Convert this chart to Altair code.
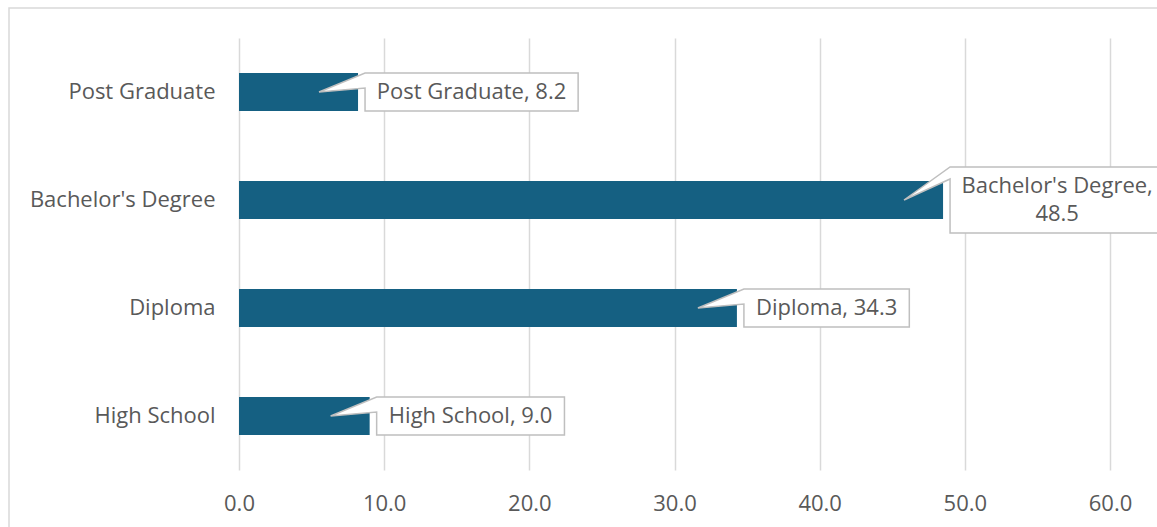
import altair as alt
import pandas as pd

# ---- data -------------------------------------------------------------
categories = ["Post Graduate", "Bachelor's Degree", "Diploma", "High School"]
values = [8.2, 48.5, 34.3, 9.0]
x_ticks = [0, 10, 20, 30, 40, 50, 60]

# ---- style ------------------------------------------------------------
FONT = "Open Sans"
FS = 22
TEXT_COLOR = "#595959"
GRID = "#d9d9d9"
BAR = "#156082"
BOX_STROKE = "#bfbfbf"

CANVAS_W, CANVAS_H = 1157, 527
PAD = {"left": 239, "top": 38, "right": 47, "bottom": 57}
PLOT_W = CANVAS_W - PAD["left"] - PAD["right"]
PLOT_H = CANVAS_H - PAD["top"] - PAD["bottom"]
X_MAX = 60
PX_PER_UNIT = PLOT_W / X_MAX

BAR_SIZE = 38
LINE_H = 28
BOX_GAP = 7       # gap between bar end and callout box
BOX_PAD = 12      # horizontal text padding inside callout
TIP_BACK = 39     # pointer tip sits this far inside the bar

# approximate advance widths (units of 1/2048 em) of the label font
_ADV = {
    " ": 532, ",": 502, ".": 545, "'": 362,
    "B": 1315, "D": 1503, "G": 1474, "H": 1548, "P": 1237, "S": 1126,
    "a": 1139, "b": 1255, "c": 975, "d": 1255, "e": 1149, "g": 1122,
    "h": 1257, "i": 518, "l": 518, "m": 1905, "o": 1237, "p": 1255,
    "r": 836, "s": 977, "t": 723, "u": 1257,
}


def text_width(s):
    return sum(_ADV.get(c, 1171) for c in s) / 2048 * FS


rows = []
for cat, val in zip(categories, values):
    lines = [f"{cat}, {val:.1f}"]
    w = text_width(lines[0]) + 2 * BOX_PAD
    anchor_px = PAD["left"] + val * PX_PER_UNIT
    if anchor_px + BOX_GAP + w > CANVAS_W:
        # wrap the label when the callout would run off the canvas
        lines = [f"{cat},", f"{val:.1f}"]
        w = max(text_width(s) for s in lines) + 2 * BOX_PAD
    hh = (len(lines) * LINE_H + 10) / 2
    base = 15 if len(lines) == 1 else 12
    bx, ex = BOX_GAP, BOX_GAP + w
    path = (
        f"M{bx:.1f},{-hh:.1f} L{ex:.1f},{-hh:.1f} L{ex:.1f},{hh:.1f} "
        f"L{bx:.1f},{hh:.1f} L{bx:.1f},{-hh + base:.1f} L{-TIP_BACK},0 Z"
    )
    rows.append({
        "category": cat,
        "value": val,
        "label": "\n".join(lines),
        "n_lines": len(lines),
        "callout": path,
        "label_x": val + (bx + w / 2) / PX_PER_UNIT,
    })

df = pd.DataFrame(rows)

x_scale = alt.Scale(domain=[0, X_MAX], nice=False, zero=True)
y_enc = alt.Y(
    "category:N",
    sort=categories,
    title=None,
    scale=alt.Scale(paddingInner=0.0, paddingOuter=0.0),
    axis=alt.Axis(
        ticks=False, tickSize=0, domain=False, grid=False, labelPadding=24,
        labelLimit=0, labelFont=FONT, labelFontSize=FS, labelColor=TEXT_COLOR,
    ),
)

base_chart = alt.Chart(df)

bars = base_chart.mark_bar(size=BAR_SIZE, color=BAR).encode(
    x=alt.X(
        "value:Q",
        scale=x_scale,
        title=None,
        axis=alt.Axis(
            values=x_ticks, format=".1f", grid=True, gridColor=GRID,
            gridWidth=1.5, domain=False, ticks=False, tickSize=0,
            labelFlush=False, labelPadding=23, labelFont=FONT,
            labelFontSize=FS, labelColor=TEXT_COLOR,
        ),
    ),
    y=y_enc,
)

callouts = base_chart.mark_point(
    filled=True, fill="white", fillOpacity=1, stroke=BOX_STROKE,
    strokeWidth=1.5, size=4, opacity=1,
).encode(
    x=alt.X("value:Q", scale=x_scale),
    y=alt.Y("category:N", sort=categories),
    shape=alt.Shape("callout:N", scale=None),
)

# one text layer per line count so multi-line labels stay centred in the box
label_layers = []
for n in sorted(df["n_lines"].unique()):
    label_layers.append(
        base_chart.transform_filter(alt.datum.n_lines == int(n)).mark_text(
            align="center", baseline="middle", lineBreak="\n",
            lineHeight=LINE_H, dy=-(int(n) - 1) * LINE_H / 2,
            font=FONT, fontSize=FS, color=TEXT_COLOR,
        ).encode(
            x=alt.X("label_x:Q", scale=x_scale),
            y=alt.Y("category:N", sort=categories),
            text="label:N",
        )
    )

frame = alt.Chart(alt.Data(values=[{}])).mark_rect(
    fill="transparent", stroke=GRID, strokeWidth=1.5,
).encode(
    x=alt.value(9 - PAD["left"]),
    y=alt.value(8 - PAD["top"]),
    x2=alt.value(PLOT_W + 200),
    y2=alt.value(PLOT_H + 200),
)

chart = alt.layer(frame, bars, callouts, *label_layers).properties(
    width=PLOT_W,
    height=PLOT_H,
    padding=PAD,
    autosize=alt.AutoSizeParams(type="none"),
    background="white",
).configure_view(stroke=None)

chart.save("out.html", embed_options={"renderer": "svg", "actions": False})
